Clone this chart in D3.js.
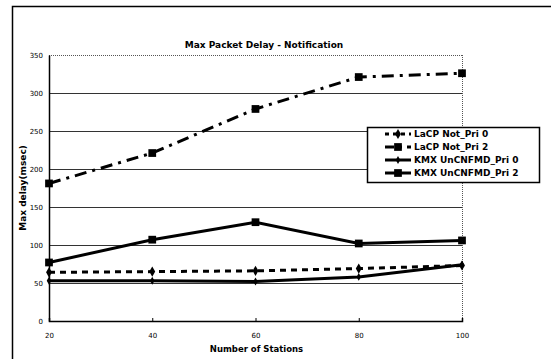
<!DOCTYPE html>
<html>
<head>
<meta charset="utf-8">
<script src="https://cdn.jsdelivr.net/npm/d3@7"></script>
<style>
  body { margin: 0; background: #fff; }
  text { font-family: "DejaVu Sans", sans-serif; fill: #000; }
</style>
</head>
<body>
<div id="chart"></div>
<script>
  const stations = [20, 40, 60, 80, 100];
  const yTicks = [0, 50, 100, 150, 200, 250, 300, 350];
  const seriesNames = ["LaCP Not_Pri 0", "LaCP Not_Pri 2", "KMX UnCNFMD_Pri 0", "KMX UnCNFMD_Pri 2"];
  const lacpPri0 = [64, 65, 66, 69, 73];
  const lacpPri2 = [181, 221, 279, 321, 326];
  const kmxPri0 = [53, 53, 52, 58, 74];
  const kmxPri2 = [77, 107, 130, 102, 106];

  const width = 551, height = 359;
  const margin = { left: 49, right: 89, top: 55, bottom: 38 };

  const svg = d3.select("#chart").append("svg")
    .attr("width", width)
    .attr("height", height);

  // outer frame
  svg.append("rect")
    .attr("x", 12.5).attr("y", 6.5)
    .attr("width", 560).attr("height", 360)
    .attr("fill", "none").attr("stroke", "#000").attr("stroke-width", 1.5);

  const x = d3.scaleLinear().domain([20, 100]).range([margin.left, width - margin.right]);
  const y = d3.scaleLinear().domain([0, 350]).range([height - margin.bottom, margin.top]);

  // gridlines
  svg.append("g")
    .selectAll("line")
    .data(yTicks.filter(d => d > 0))
    .enter()
    .append("line")
    .attr("x1", x(20)).attr("x2", x(100))
    .attr("y1", d => Math.round(y(d)) + 0.5).attr("y2", d => Math.round(y(d)) + 0.5)
    .attr("stroke", d => d === 350 ? "#555" : "#333")
    .attr("stroke-width", 1)
    .attr("stroke-dasharray", d => d === 350 ? "1,1" : null);

  // right dotted border
  svg.append("line")
    .attr("x1", Math.round(x(100)) + 0.5).attr("x2", Math.round(x(100)) + 0.5)
    .attr("y1", y(350)).attr("y2", y(0))
    .attr("stroke", "#555").attr("stroke-dasharray", "1,1");

  // axes
  const yAxis = svg.append("g")
    .attr("transform", `translate(${margin.left},0)`)
    .call(d3.axisLeft(y).tickValues(yTicks).tickSize(0).tickPadding(6));
  yAxis.select(".domain").attr("stroke", "#000").attr("stroke-width", 1.5);
  yAxis.selectAll("text").style("font-size", "7px");

  const xAxis = svg.append("g")
    .attr("transform", `translate(0,${y(0)})`)
    .call(d3.axisBottom(x).tickValues(stations).tickSize(-3).tickPadding(12));
  xAxis.select(".domain").attr("stroke", "#000").attr("stroke-width", 1.5);
  xAxis.selectAll(".tick line").attr("stroke", "#000");
  xAxis.selectAll("text").style("font-size", "7px");

  // titles
  svg.append("text")
    .attr("x", 264).attr("y", 48)
    .attr("text-anchor", "middle")
    .style("font-size", "9px").style("font-weight", "bold")
    .text("Max Packet Delay - Notification");

  svg.append("text")
    .attr("x", (x(20) + x(100)) / 2 + 1).attr("y", 352)
    .attr("text-anchor", "middle")
    .style("font-size", "8.5px").style("font-weight", "bold")
    .text("Number of Stations");

  svg.append("text")
    .attr("transform", `translate(26,${y(175)}) rotate(-90)`)
    .attr("text-anchor", "middle")
    .style("font-size", "9px").style("font-weight", "bold")
    .text("Max delay(msec)");

  const series = [
    { name: seriesNames[0], values: lacpPri0, dash: "6,5", legendDash: "4,4", marker: "diamond", size: 30 },
    { name: seriesNames[1], values: lacpPri2, dash: "12,6,3,6", legendDash: "9,4,4,5", marker: "square", size: 60 },
    { name: seriesNames[2], values: kmxPri0, dash: null, legendDash: null, marker: "diamond", size: 18 },
    { name: seriesNames[3], values: kmxPri2, dash: null, legendDash: null, marker: "square", size: 60 }
  ];

  const line = d3.line()
    .x((d, i) => x(stations[i]))
    .y(d => y(d));

  const symbolType = m => m === "square" ? d3.symbolSquare : d3.symbolDiamond;

  series.forEach(s => {
    svg.append("path")
      .datum(s.values)
      .attr("fill", "none")
      .attr("stroke", "#000")
      .attr("stroke-width", 3)
      .attr("stroke-dasharray", s.dash)
      .attr("d", line);

    svg.append("g")
      .selectAll("path")
      .data(s.values)
      .enter()
      .append("path")
      .attr("transform", (d, i) => `translate(${x(stations[i])},${y(d)})`)
      .attr("d", d3.symbol().type(symbolType(s.marker)).size(s.size))
      .attr("fill", "#000");
  });

  // legend
  const legend = svg.append("g").attr("transform", "translate(367,127)");
  legend.append("rect")
    .attr("x", 0.5).attr("y", 0.5)
    .attr("width", 172).attr("height", 55)
    .attr("fill", "#fff").attr("stroke", "#000").attr("stroke-width", 1.5);

  const item = legend.selectAll("g.item")
    .data(series)
    .enter()
    .append("g")
    .attr("class", "item")
    .attr("transform", (d, i) => `translate(0,${7 + i * 13})`);

  item.append("line")
    .attr("x1", 18).attr("x2", 44)
    .attr("y1", 0).attr("y2", 0)
    .attr("stroke", "#000").attr("stroke-width", 3)
    .attr("stroke-dasharray", d => d.legendDash);

  item.append("path")
    .attr("transform", "translate(31,0)")
    .attr("d", d => d3.symbol().type(symbolType(d.marker)).size(d.size)())
    .attr("fill", "#000");

  item.append("text")
    .attr("x", 47).attr("y", 3)
    .style("font-size", "9px").style("font-weight", "bold")
    .text(d => d.name);
</script>
</body>
</html>
